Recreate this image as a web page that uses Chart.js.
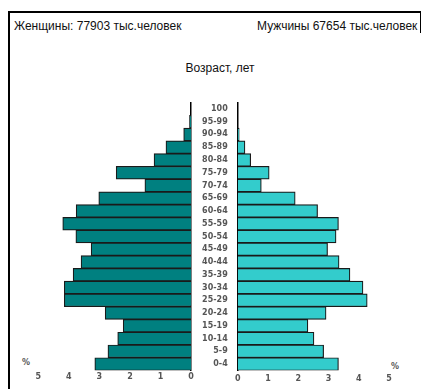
<!DOCTYPE html>
<html>
<head>
<meta charset="utf-8">
<script src="https://cdn.jsdelivr.net/npm/chart.js@4"></script>
<style>
  body { margin: 0; background: #fff; }
  #wrap { position: relative; width: 421px; height: 389px; overflow: hidden; }
  #frame { position: absolute; left: 8px; top: 11px; width: 410px; height: 400px; border-left: 2px solid #000; border-top: 2px solid #000; }
  #edge { position: absolute; left: 420px; top: 11px; width: 1px; height: 22px; background: #000; }
  canvas { position: absolute; left: 0; top: 0; }
  .txt { position: absolute; font-family: "Liberation Sans", Arial, sans-serif; color: #111; white-space: nowrap; }
  .pct { position: absolute; font: bold 8px "DejaVu Sans", sans-serif; color: #555; }
</style>
</head>
<body>
<div id="wrap">
  <div id="frame"></div>
  <div id="edge"></div>
  <div class="txt" style="left:14px; top:19px; font-size:12px;">Женщины: 77903 тыс.человек</div>
  <div class="txt" style="left:257px; top:19px; font-size:12px;">Мужчины 67654 тыс.человек</div>
  <div class="txt" style="left:220px; top:61px; font-size:12px; transform:translateX(-50%);">Возраст, лет</div>
  <div class="pct" style="left:22px; top:358px;">%</div>
  <div class="pct" style="left:391px; top:362px;">%</div>
  <canvas id="women" width="421" height="389"></canvas>
  <canvas id="men" width="421" height="389"></canvas>
</div>
<script>
// age groups, top to bottom
const ages = ['100', '95-99', '90-94', '85-89', '80-84', '75-79', '70-74', '65-69', '60-64', '55-59',
  '50-54', '45-49', '40-44', '35-39', '30-34', '25-29', '20-24', '15-19', '10-14', '5-9', '0-4'];

// share of population, %
const women = [0, 0.05, 0.24, 0.82, 1.21, 2.45, 1.51, 3.02, 3.76, 4.2,
  3.77, 3.27, 3.6, 3.86, 4.15, 4.15, 2.81, 2.22, 2.4, 2.72, 3.15];
const men = [0, 0, 0.05, 0.24, 0.43, 1.04, 0.78, 1.9, 2.64, 3.33,
  3.25, 2.97, 3.35, 3.71, 4.14, 4.28, 2.92, 2.32, 2.52, 2.84, 3.33];

const xTicks = [0, 1, 2, 3, 4, 5];

const tickFont = { family: 'DejaVu Sans', size: 8, weight: 'bold' };

function xAxis(reverse, pad) {
  return {
    min: 0,
    max: 5,
    reverse: reverse,
    afterBuildTicks: (scale) => { scale.ticks = xTicks.map(v => ({ value: v })); },
    afterFit: (scale) => { scale.height = 389 - 370.5; },
    grid: { display: false, drawTicks: false },
    border: { display: false },
    ticks: { padding: pad, color: '#555', font: tickFont }
  };
}

// women, left half
new Chart(document.getElementById('women'), {
  type: 'bar',
  data: {
    labels: ages,
    datasets: [{
      data: women,
      backgroundColor: '#008080',
      borderColor: '#1a1a1a',
      borderWidth: 1.2,
      categoryPercentage: 1,
      barPercentage: 1
    }]
  },
  options: {
    indexAxis: 'y',
    responsive: false,
    animation: false,
    layout: { padding: { left: 38.3, right: 230, top: 102.5, bottom: 0 } },
    plugins: { legend: { display: false }, tooltip: { enabled: false } },
    scales: {
      x: xAxis(true, 2),
      y: {
        position: 'right',
        afterFit: (scale) => { scale.width = 0; },
        grid: { display: false, drawTicks: false },
        border: { display: true, color: '#000', width: 1.5 },
        ticks: { display: false }
      }
    }
  }
});

// men, right half with age labels
new Chart(document.getElementById('men'), {
  type: 'bar',
  data: {
    labels: ages,
    datasets: [{
      data: men,
      backgroundColor: '#33cccc',
      borderColor: '#1a1a1a',
      borderWidth: 1.2,
      categoryPercentage: 1,
      barPercentage: 1
    }]
  },
  options: {
    indexAxis: 'y',
    responsive: false,
    animation: false,
    layout: { padding: { left: 0, right: 32, top: 102.5, bottom: 0 } },
    plugins: { legend: { display: false }, tooltip: { enabled: false } },
    scales: {
      x: xAxis(false, 4),
      y: {
        position: 'left',
        afterFit: (scale) => { scale.width = 237.7; },
        grid: { display: false, drawTicks: false },
        border: { display: true, color: '#000', width: 1.5 },
        ticks: { padding: 10, color: '#555', font: tickFont, autoSkip: false }
      }
    }
  }
});
</script>
</body>
</html>
